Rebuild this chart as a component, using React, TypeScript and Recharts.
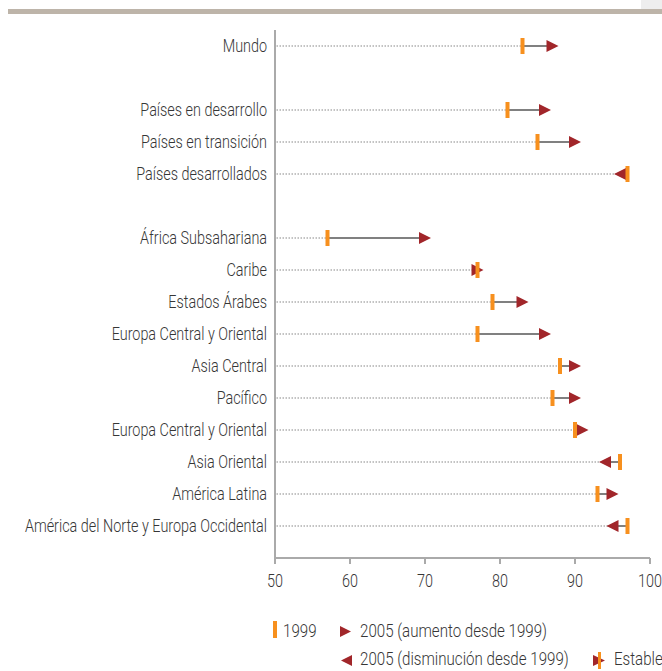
import { ScatterChart, Scatter, XAxis, YAxis, ReferenceLine } from "recharts";

// labels, row slots (gaps at 1 and 5) and the two years' values
const labels = [
  "Mundo",
  "Países en desarrollo",
  "Países en transición",
  "Países desarrollados",
  "África Subsahariana",
  "Caribe",
  "Estados Árabes",
  "Europa Central y Oriental",
  "Asia Central",
  "Pacífico",
  "Europa Central y Oriental",
  "Asia Oriental",
  "América Latina",
  "América del Norte y Europa Occidental",
];
const rows = [0, 2, 3, 4, 6, 7, 8, 9, 10, 11, 12, 13, 14, 15];
const v1999 = [83, 81, 85, 97, 57, 77, 79, 77, 88, 87, 90, 96, 93, 97];
const v2005 = [87, 86, 90, 96, 70, 77, 83, 86, 90, 90, 91, 94, 95, 95];
const xTicks = [50, 60, 70, 80, 90, 100];

// no condensed font installed, so squeeze a light sans horizontally
const FONT = "Roboto, 'Liberation Sans', sans-serif";
const FS = 18;
const SQUEEZE = 0.8;
const ORANGE = "#f7901e";
const RED = "#a1262a";
const AXIS = "#aaaaaa";
const TEXT = "#363636";

const data1999 = rows.map((r, i) => ({ x: v1999[i], y: r }));
const data2005 = rows.map((r, i) => ({ x: v2005[i], y: r, up: v2005[i] >= v1999[i] }));
const labelByRow: Record<number, string> = {};
rows.forEach((r, i) => (labelByRow[r] = labels[i]));

function Narrow({ x, y, anchor = "start", dy, sx = SQUEEZE, children }: any) {
  return (
    <g transform={`translate(${x},${y})`}>
      <text
        transform={`scale(${sx},1)`}
        textAnchor={anchor}
        dy={dy}
        fontFamily={FONT}
        fontWeight={300}
        fontSize={FS}
        fill={TEXT}
      >
        {children}
      </text>
    </g>
  );
}

function YTick(props: any) {
  const { x, y, payload } = props;
  return (
    <Narrow x={x} y={y} anchor="end" dy="0.36em">
      {labelByRow[payload.value] ?? ""}
    </Narrow>
  );
}

function XTick(props: any) {
  const { x, y, payload } = props;
  return (
    <Narrow x={x} y={y} anchor="middle" dy="0.71em">
      {payload.value}
    </Narrow>
  );
}

function Tick1999(props: any) {
  const { cx, cy } = props;
  return <rect x={cx - 2} y={cy - 8} width={4} height={16} fill={ORANGE} />;
}

function Arrow2005(props: any) {
  const { cx, cy, payload } = props;
  const d = payload.up ? 1 : -1;
  return (
    <polygon
      points={`${cx - 6 * d},${cy - 6} ${cx + 6 * d},${cy} ${cx - 6 * d},${cy + 6}`}
      fill={RED}
    />
  );
}

function Legend() {
  const ls = 0.84;
  return (
    <svg
      width={662}
      height={671}
      style={{ position: "absolute", left: 0, top: 0, pointerEvents: "none" }}
    >
      <rect x={8} y={9} width={654} height={5} fill="#bdb4a9" />
      <rect x={641} y={0} width={21} height={9} fill="#eeeeee" />

      <rect x={273} y={621} width={4} height={17} fill={ORANGE} />
      <Narrow x={283} y={637} sx={ls}>1999</Narrow>
      <polygon points="340,626 351,631.5 340,637" fill={RED} />
      <Narrow x={360} y={637} sx={ls}>2005 (aumento desde 1999)</Narrow>

      <polygon points="352,655 341,660.5 352,666" fill={RED} />
      <Narrow x={360} y={665} sx={ls}>2005 (disminución desde 1999)</Narrow>
      <polygon points="593,655 605,660.5 593,666" fill={RED} />
      <rect x={598} y={652} width={3} height={17} fill={ORANGE} />
      <Narrow x={614} y={665} sx={ls}>Estable</Narrow>
    </svg>
  );
}

export default function App() {
  return (
    <div style={{ position: "absolute", left: 0, top: 0, width: 662, height: 671, background: "#fff" }}>
      <ScatterChart width={662} height={600} margin={{ top: 30, right: 12, bottom: 0, left: 0 }}>
        <XAxis
          type="number"
          dataKey="x"
          domain={[50, 100]}
          ticks={xTicks}
          interval={0}
          height={42}
          tickMargin={10}
          tickSize={6}
          stroke={AXIS}
          strokeWidth={2}
          tick={<XTick />}
        />
        <YAxis
          type="number"
          dataKey="y"
          domain={[-0.5, 16]}
          reversed
          ticks={rows}
          interval={0}
          width={275}
          tickLine={false}
          stroke={AXIS}
          strokeWidth={2}
          tick={<YTick />}
        />
        {rows.map((r, i) => (
          <ReferenceLine
            key={`dot-${i}`}
            segment={[
              { x: 50.2, y: r },
              { x: Math.min(v1999[i], v2005[i]), y: r },
            ]}
            stroke="#b0b0b0"
            strokeWidth={1.5}
            strokeDasharray="1.5 1.5"
          />
        ))}
        {rows.map((r, i) =>
          v1999[i] !== v2005[i] ? (
            <ReferenceLine
              key={`seg-${i}`}
              segment={[
                { x: v1999[i], y: r },
                { x: v2005[i], y: r },
              ]}
              stroke="#808080"
              strokeWidth={2}
            />
          ) : null
        )}
        <Scatter data={data2005} shape={<Arrow2005 />} isAnimationActive={false} />
        <Scatter data={data1999} shape={<Tick1999 />} isAnimationActive={false} />
      </ScatterChart>
      <Legend />
    </div>
  );
}
